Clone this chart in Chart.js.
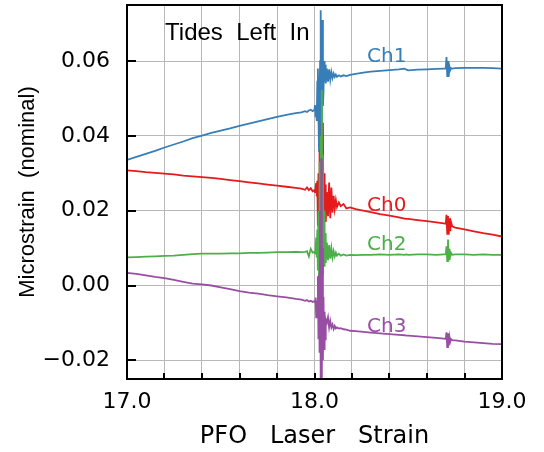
<!DOCTYPE html>
<html>
<head>
<meta charset="utf-8">
<script src="https://cdn.jsdelivr.net/npm/chart.js@4.4.1/dist/chart.umd.min.js"></script>
<style>
html,body{margin:0;padding:0;background:#fff;}
#wrap{width:544px;height:452px;}
</style>
</head>
<body>
<div id="wrap"><canvas id="c" width="544" height="452"></canvas></div>
<script>
// ---- data ----
const xs = [
 17.00,17.05,17.10,17.15,17.20,17.25,17.30,17.35,17.40,17.45,
 17.50,17.55,17.60,17.65,17.70,17.75,17.80,17.85,17.90,17.93,
 17.95,17.96,17.97,17.98,17.99,
 18.000,18.003,18.006,18.009,18.012,18.015,18.018,18.021,18.024,18.027,
 18.030,18.033,18.036,18.039,18.042,18.045,18.048,18.051,18.054,18.057,
 18.060,
 18.066,18.072,18.078,18.084,18.090,18.096,18.102,18.108,18.114,18.120,
 18.130,18.140,18.155,18.170,18.190,
 18.22,18.26,18.30,18.35,18.40,18.45,18.48,18.49,18.50,18.55,
 18.60,18.65,18.69,
 18.700,18.704,18.708,18.712,18.716,18.720,18.724,18.728,18.735,
 18.75,18.80,18.85,18.90,18.95,19.00
];
const ch1 = [
 .0336,.0344,.0352,.0360,.0369,.0377,.0385,.0394,.0401,.0408,
 .0414,.0420,.0427,.0433,.0439,.0445,.0451,.0456,.0461,.0463,
 .0466,.0464,.0468,.0470,.0466,
 .0470,.0482,.0450,.0480,.0440,.0545,.0580,.0456,.0360,.0520,
 .0600,.0736,.0357,.0500,.0710,.0480,.0518,.0600,.0545,.0590,
 .0540,
 .0580,.0545,.0578,.0550,.0571,.0555,.0567,.0558,.0564,.0558,
 .0562,.0559,.0562,.0560,.0563,
 .0566,.0569,.0572,.0574,.0576,.0578,.0580,.0577,.0575,.0577,
 .0578,.0579,.0580,
 .0580,.0611,.0560,.0600,.0558,.0585,.0576,.0581,.0580,
 .0581,.0582,.0582,.0582,.0581,.0580
];
const ch0 = [
 .0308,.0306,.0303,.0301,.0299,.0297,.0294,.0292,.0290,.0288,
 .0285,.0282,.0279,.0276,.0273,.0270,.0267,.0264,.0261,.0259,
 .0256,.0262,.0255,.0260,.0252,
 .0255,.0250,.0262,.0274,.0238,.0280,.0160,.0300,.0080,.0360,
 .0040,.0300,.0100,.0435,.0060,.0435,.0150,.0300,.0180,.0270,
 .0170,
 .0250,.0185,.0275,.0180,.0262,.0195,.0240,.0205,.0228,.0210,
 .0222,.0212,.0218,.0206,.0209,
 .0204,.0200,.0196,.0191,.0187,.0182,.0179,.0178,.0178,.0175,
 .0172,.0169,.0166,
 .0165,.0189,.0138,.0186,.0136,.0180,.0145,.0170,.0158,
 .0155,.0150,.0145,.0140,.0136,.0131
];
const ch2 = [
 .0075,.0076,.0077,.0078,.0079,.0080,.0082,.0084,.0085,.0085,
 .0085,.0086,.0086,.0087,.0087,.0088,.0089,.0089,.0090,.0089,
 .0090,.0092,.0078,.0098,.0088,
 .0090,.0085,.0100,.0128,.0075,.0150,.0040,.0200,.0030,.0330,
 .0025,.0400,.0060,.0523,.0030,.0350,.0050,.0200,.0050,.0140,
 .0060,
 .0115,.0068,.0108,.0072,.0100,.0075,.0092,.0078,.0088,.0080,
 .0085,.0080,.0083,.0080,.0082,
 .0081,.0082,.0082,.0083,.0082,.0083,.0082,.0083,.0082,.0083,
 .0083,.0082,.0083,
 .0083,.0105,.0065,.0123,.0068,.0098,.0078,.0087,.0082,
 .0083,.0083,.0082,.0083,.0082,.0082
];
const ch3 = [
 .0034,.0031,.0027,.0023,.0020,.0015,.0010,.0005,.0003,.0000,
 -.0005,-.0010,-.0015,-.0019,-.0022,-.0026,-.0029,-.0032,-.0036,-.0038,
 -.0041,-.0039,-.0043,-.0041,-.0044,
 -.0042,-.0045,-.0032,-.0085,-.0040,-.0060,.0025,-.0144,.0030,-.0180,
 .0200,-.0260,.0340,-.0260,.0100,-.0200,-.0030,-.0170,-.0070,-.0144,
 -.0090,
 -.0099,-.0085,-.0112,-.0095,-.0112,-.0104,-.0116,-.0108,-.0115,-.0112,
 -.0115,-.0114,-.0117,-.0118,-.0121,
 -.0122,-.0124,-.0126,-.0128,-.0130,-.0132,-.0133,-.0134,-.0134,-.0136,
 -.0138,-.0140,-.0142,
 -.0143,-.0125,-.0165,-.0128,-.0160,-.0138,-.0150,-.0143,-.0146,
 -.0147,-.0150,-.0152,-.0154,-.0156,-.0157
];
const seriesNames = ['Ch0','Ch1','Ch2','Ch3'];
const xGridValues = [17.0,17.2,17.4,17.6,17.8,18.0,18.2,18.4,18.6,18.8,19.0];
const xLabelValues = [17, 18, 19];
const yLabelValues = [-0.02, 0.00, 0.02, 0.04, 0.06];
const annotationText = 'Tides  Left  In';
const xTitle = 'PFO   Laser   Strain';
const yTitle = 'Microstrain  (nominal)';

// ---- styles ----
const colors = {Ch0:'#e41a1c', Ch1:'#377eb8', Ch2:'#4daf4a', Ch3:'#984ea3'};
const drawOrder = {Ch0:2, Ch1:3, Ch2:1, Ch3:0};
// label anchor points in data units (text, not marks)
const labelAt = {Ch1:[18.28,0.0597], Ch0:[18.28,0.0198], Ch2:[18.28,0.0096], Ch3:[18.28,-0.01245]};
const seriesData = {Ch0:ch0, Ch1:ch1, Ch2:ch2, Ch3:ch3};

const toPts = arr => xs.map((x,i)=>({x:x, y:arr[i]}));

const framePlugin = {
  id:'frame',
  afterDatasetsDraw(chart){
    const {ctx, chartArea:a, scales:{x, y}} = chart;
    ctx.save();
    ctx.strokeStyle = '#000';
    ctx.lineWidth = 2;
    ctx.beginPath();
    y.ticks.forEach(t=>{
      const py = Math.round(y.getPixelForValue(t.value));
      ctx.moveTo(a.left, py); ctx.lineTo(a.left + 9, py);
    });
    x.ticks.forEach(t=>{
      const px = Math.round(x.getPixelForValue(t.value));
      ctx.moveTo(px, a.bottom); ctx.lineTo(px, a.bottom - 6);
    });
    ctx.stroke();
    ctx.strokeRect(a.left, a.top, a.right - a.left, a.bottom - a.top);
    ctx.textBaseline = 'alphabetic';
    ctx.textAlign = 'left';
    ctx.fillStyle = '#000';
    ctx.font = '24px "Liberation Sans"';
    ctx.fillText(annotationText, x.getPixelForValue(17.203), y.getPixelForValue(0.0656));
    ctx.font = '20px "DejaVu Sans"';
    seriesNames.forEach(n=>{
      ctx.fillStyle = colors[n];
      ctx.fillText(n, x.getPixelForValue(labelAt[n][0]), y.getPixelForValue(labelAt[n][1]));
    });
    ctx.restore();
  }
};

new Chart(document.getElementById('c'), {
  type:'line',
  data:{
    datasets: seriesNames.map(n=>({
      label:n,
      data: toPts(seriesData[n]),
      borderColor: colors[n],
      backgroundColor: colors[n],
      borderWidth: 1.8,
      pointRadius: 0,
      tension: 0,
      order: drawOrder[n]
    }))
  },
  options:{
    responsive:false,
    animation:false,
    devicePixelRatio:1,
    layout:{padding:{left:0, top:5, right:42, bottom:0}},
    plugins:{legend:{display:false}, tooltip:{enabled:false}},
    scales:{
      x:{
        type:'linear', min:17, max:19,
        border:{display:false},
        grid:{color:'#b8b8b8', lineWidth:1, drawTicks:false},
        afterBuildTicks:(s)=>{ s.ticks = xGridValues.map(v=>({value:v})); },
        ticks:{
          autoSkip:false, maxRotation:0, padding:10,
          color:'#000', font:{family:'DejaVu Sans', size:22},
          callback:(v)=>{ const m = xLabelValues.find(t=>Math.abs(t-v)<1e-6); return m===undefined ? '' : m.toFixed(1); }
        },
        title:{display:true, text:xTitle, color:'#000', font:{family:'DejaVu Sans', size:24}, padding:{top:0,bottom:1}},
        afterFit:(s)=>{ s.height = 73; s.paddingLeft = 0; s.paddingRight = 0; }
      },
      y:{
        type:'linear', min:-0.025, max:0.075,
        border:{display:false},
        grid:{color:'#b8b8b8', lineWidth:1, drawTicks:false},
        afterBuildTicks:(s)=>{ s.ticks = yLabelValues.map(v=>({value:v})); },
        ticks:{
          padding:17,
          color:'#000', font:{family:'DejaVu Sans', size:22},
          callback:(v)=>{ return v<0 ? '\u2212' + Math.abs(v).toFixed(2) : Math.abs(v).toFixed(2); }
        },
        title:{display:true, text:yTitle, color:'#000', font:{family:'Liberation Sans', size:22}, padding:{top:15,bottom:0}},
        afterFit:(s)=>{ s.width = 127; s.paddingTop = 0; s.paddingBottom = 0; }
      }
    }
  },
  plugins:[framePlugin]
});
</script>
</body>
</html>
